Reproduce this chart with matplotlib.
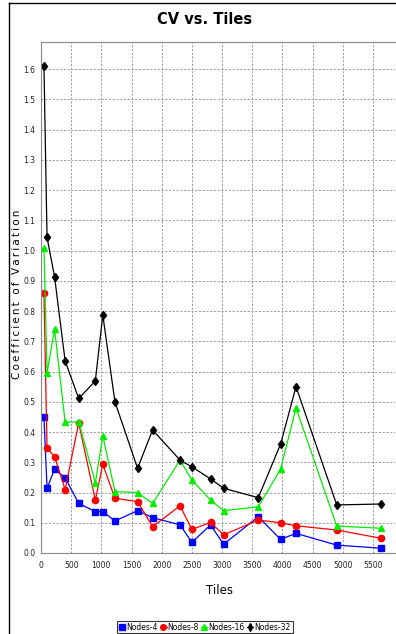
import matplotlib
matplotlib.use("Agg")
import matplotlib.pyplot as plt
from matplotlib.lines import Line2D

tiles = [49, 100, 225, 400, 625, 900, 1024, 1225, 1600, 1849, 2304, 2500,
         2809, 3025, 3600, 3969, 4225, 4900, 5625]
nodes4 = [0.45, 0.214, 0.277, 0.249, 0.164, 0.137, 0.137, 0.106, 0.14, 0.117,
          0.093, 0.035, 0.093, 0.029, 0.12, 0.045, 0.065, 0.026, 0.016]
nodes8 = [0.86, 0.348, 0.318, 0.21, 0.43, 0.175, 0.293, 0.181, 0.17, 0.087,
          0.156, 0.078, 0.101, 0.06, 0.109, 0.1, 0.09, 0.076, 0.049]
nodes16 = [1.01, 0.596, 0.74, 0.432, 0.434, 0.232, 0.387, 0.203, 0.2, 0.164,
           0.307, 0.241, 0.175, 0.14, 0.153, 0.277, 0.48, 0.089, 0.082]
nodes32 = [1.61, 1.044, 0.913, 0.635, 0.511, 0.569, 0.787, 0.50, 0.28, 0.407,
           0.307, 0.285, 0.245, 0.214, 0.183, 0.36, 0.55, 0.159, 0.162]
series_names = ["Nodes-4", "Nodes-8", "Nodes-16", "Nodes-32"]
xticks = list(range(0, 6000, 500))
yticks = [round(0.1 * i, 1) for i in range(17)]

plt.rcParams['font.family'] = ["Liberation Sans Narrow", "DejaVu Sans Condensed", "DejaVu Sans"]

W, H = 396, 634
fig = plt.figure(figsize=(W / 100, H / 100), dpi=100)
fig.patch.set_facecolor("white")
ax = fig.add_axes([41 / W, 1 - 553 / H, (395 - 41) / W, (553 - 42) / H])

styles = [
    dict(color="#0000FF", marker="s", ms=4.5),
    dict(color="#FF0000", marker="o", ms=4.5),
    dict(color="#00EE00", marker="^", ms=5),
    dict(color="#000000", marker="d", ms=4.5),
]
for name, vals, st in zip(series_names, [nodes4, nodes8, nodes16, nodes32], styles):
    ax.plot(tiles, vals, color=st["color"], marker=st["marker"], ms=st["ms"],
            mec=st["color"], mfc=st["color"], lw=0.9, label=name)

ax.set_xlim(0, 5865)
ax.set_ylim(0, 1.69)
ax.set_xticks(xticks)
ax.set_yticks(yticks)
ax.set_xticklabels([str(t) for t in xticks])
ax.set_yticklabels([f"{t:.1f}" for t in yticks])
ax.tick_params(length=0, labelsize=5.5, colors="#222222")
ax.tick_params(axis="y", pad=4)
ax.tick_params(axis="x", pad=6)
ax.grid(True, color="#888888", linestyle=(0, (2.5, 2)), lw=0.6)
ax.set_axisbelow(True)
for s in ["left", "top", "bottom", "right"]:
    ax.spines[s].set_color("#888888")
    ax.spines[s].set_linewidth(0.8)
ax.spines["right"].set_visible(False)

fig.text(205 / W, 1 - 20 / H, "CV vs. Tiles", ha="center", va="center",
         fontsize=10.5, fontweight="bold")
fig.text(17 / W, 1 - 294 / H, "\u2009".join("Coefficient of Variation"),
         rotation=90, ha="center", va="center", fontsize=7.5,
         family=["DejaVu Sans"])
fig.text(220 / W, 1 - 590 / H, "Tiles", ha="center", va="center", fontsize=8.5)

leg = fig.legend(loc="center", bbox_to_anchor=(205 / W, 1 - 627 / H), ncol=4,
                 fontsize=5.5, frameon=True, handlelength=0.8, handletextpad=0.15,
                 columnspacing=0.3, borderpad=0.25, fancybox=False,
                 markerscale=0.9)
leg.get_frame().set_edgecolor("#000000")
leg.get_frame().set_linewidth(0.8)

fig.add_artist(Line2D([9 / W, 9 / W], [0, 1 - 3 / H], color="black", lw=1.0,
                      transform=fig.transFigure))
fig.add_artist(Line2D([9 / W, 1], [1 - 3 / H, 1 - 3 / H], color="black", lw=1.0,
                      transform=fig.transFigure))

fig.savefig("out.png", dpi=100)
